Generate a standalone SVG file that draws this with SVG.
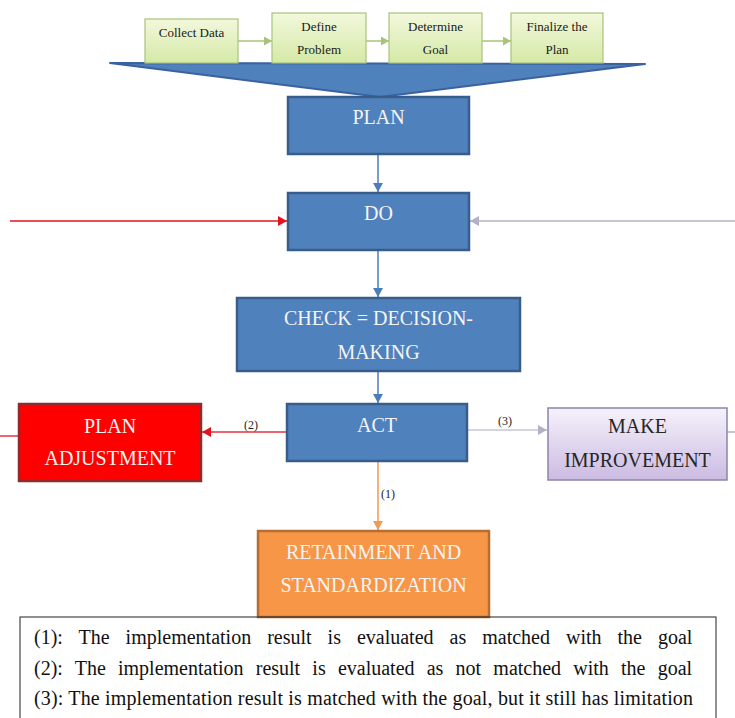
<svg xmlns="http://www.w3.org/2000/svg" width="735" height="718" viewBox="0 0 735 718">
<style>
.g rect{fill:url(#gg);stroke:#a9c47a;stroke-width:1.2}
.gt{font-family:"Liberation Serif",serif;font-size:13px;fill:#1a1a1a;text-anchor:middle}
.b{fill:#4f81bd;stroke:#385d8a;stroke-width:2.5}
.wt{font-family:"Liberation Serif",serif;font-size:20px;fill:#f4f4f4;text-anchor:middle}
.dt{font-family:"Liberation Serif",serif;font-size:20px;fill:#262626;text-anchor:middle}
.lbl{font-family:"Liberation Serif",serif;font-size:12px;fill:#222}
.leg{font-family:"Liberation Serif",serif;font-size:20px;fill:#111}
</style>
<defs>
<linearGradient id="gg" x1="0" y1="0" x2="0" y2="1"><stop offset="0" stop-color="#f2f8dc"/><stop offset="1" stop-color="#d5e9a6"/></linearGradient>
<linearGradient id="pg" x1="0" y1="0" x2="0" y2="1"><stop offset="0" stop-color="#f6f2fb"/><stop offset="1" stop-color="#cbbbe2"/></linearGradient>
<marker id="mg" markerUnits="userSpaceOnUse" markerWidth="9" markerHeight="9" refX="8" refY="4.5" orient="auto"><path d="M0,0 L8,4.5 L0,9 Z" fill="#a9c47a"/></marker>
<marker id="mb" markerUnits="userSpaceOnUse" markerWidth="10" markerHeight="10" refX="9" refY="5" orient="auto"><path d="M0,0 L9,5 L0,10 Z" fill="#4a7ebb"/></marker>
<marker id="mr" markerUnits="userSpaceOnUse" markerWidth="10" markerHeight="10" refX="9" refY="5" orient="auto"><path d="M0,0 L9,5 L0,10 Z" fill="#e3141e"/></marker>
<marker id="ml" markerUnits="userSpaceOnUse" markerWidth="10" markerHeight="10" refX="9" refY="5" orient="auto"><path d="M0,0 L9,5 L0,10 Z" fill="#b4b0c8"/></marker>
<marker id="mo" markerUnits="userSpaceOnUse" markerWidth="10" markerHeight="10" refX="9" refY="5" orient="auto"><path d="M0,0 L9,5 L0,10 Z" fill="#ef9a55"/></marker>
</defs>
<rect width="735" height="718" fill="#ffffff"/>

<g id="funnel"><polygon points="110,63 645,64 380,97" fill="#4f81bd" stroke="#3a62a0" stroke-width="2" stroke-linejoin="round"/></g>

<g id="collect" class="g"><rect x="145" y="19" width="93" height="44"/><text class="gt" x="191.5" y="37">Collect Data</text></g>
<g id="define" class="g"><rect x="272" y="13" width="94" height="50"/><text class="gt" x="319" y="31">Define</text><text class="gt" x="319" y="54">Problem</text></g>
<g id="goal" class="g"><rect x="389" y="13" width="93" height="50"/><text class="gt" x="435.5" y="31">Determine</text><text class="gt" x="435.5" y="54">Goal</text></g>
<g id="finalize" class="g"><rect x="511" y="13" width="92" height="50"/><text class="gt" x="557" y="31">Finalize the</text><text class="gt" x="557" y="54">Plan</text></g>

<g id="connectors" fill="none" stroke-width="1.5">
<line x1="238" y1="41" x2="272" y2="41" stroke="#a9c47a" marker-end="url(#mg)"/>
<line x1="366" y1="41" x2="389" y2="41" stroke="#a9c47a" marker-end="url(#mg)"/>
<line x1="482" y1="41" x2="511" y2="41" stroke="#a9c47a" marker-end="url(#mg)"/>
<line x1="378" y1="154" x2="378" y2="192" stroke="#4a7ebb" marker-end="url(#mb)"/>
<line x1="378" y1="251" x2="378" y2="297" stroke="#4a7ebb" marker-end="url(#mb)"/>
<line x1="378" y1="372" x2="378" y2="403" stroke="#4a7ebb" marker-end="url(#mb)"/>
<line x1="10" y1="221" x2="287" y2="221" stroke="#e3141e" marker-end="url(#mr)"/>
<line x1="735" y1="221" x2="470" y2="221" stroke="#b4b0c8" marker-end="url(#ml)"/>
<line x1="287" y1="432" x2="202" y2="432" stroke="#e3323c" marker-end="url(#mr)"/>
<line x1="0" y1="436" x2="18" y2="436" stroke="#e3323c"/>
<line x1="468" y1="430" x2="547" y2="430" stroke="#c8c6d4" marker-end="url(#ml)"/>
<line x1="727" y1="432" x2="735" y2="432" stroke="#b4b0c8"/>
<line x1="378" y1="461" x2="378" y2="530" stroke="#ef9a55" marker-end="url(#mo)"/>
<text class="lbl" x="244" y="429" stroke="none">(2)</text>
<text class="lbl" x="498" y="425" stroke="none">(3)</text>
<text class="lbl" x="381" y="498" stroke="none">(1)</text>
</g>

<g id="plan"><rect class="b" x="288" y="97" width="181" height="57"/><text class="wt" x="378.5" y="124">PLAN</text></g>
<g id="do"><rect class="b" x="288" y="193" width="181" height="57"/><text class="wt" x="378.5" y="220">DO</text></g>
<g id="check"><rect class="b" x="237" y="298" width="283" height="73"/><text class="wt" x="378.5" y="325">CHECK = DECISION-</text><text class="wt" x="378.5" y="359">MAKING</text></g>
<g id="act"><rect class="b" x="287" y="404" width="180" height="57"/><text class="wt" x="377" y="432">ACT</text></g>
<g id="adjust"><rect x="19" y="404" width="182" height="77" fill="#ff0000" stroke="#8e2b2b" stroke-width="2.5"/><text class="wt" x="110" y="433">PLAN</text><text class="wt" x="110" y="465">ADJUSTMENT</text></g>
<g id="improve"><rect x="548" y="408" width="179" height="72" fill="url(#pg)" stroke="#8f83aa" stroke-width="1.5"/><text class="dt" x="637.5" y="433">MAKE</text><text class="dt" x="637.5" y="467">IMPROVEMENT</text></g>
<g id="retain"><rect x="258" y="531" width="231" height="86" fill="#f79646" stroke="#b66d31" stroke-width="2.5"/><text class="wt" x="373.5" y="559">RETAINMENT AND</text><text class="wt" x="373.5" y="592">STANDARDIZATION</text></g>

<g id="legend">
<rect x="20" y="617" width="696" height="110" fill="none" stroke="#222" stroke-width="1"/>
<text class="leg" x="34" y="644" word-spacing="11">(1): The implementation result is evaluated as matched with the goal</text>
<text class="leg" x="34" y="675" word-spacing="7.2">(2): The implementation result is evaluated as not matched with the goal</text>
<text class="leg" x="34" y="705" textLength="659" lengthAdjust="spacing">(3): The implementation result is matched with the goal, but it still has limitation</text>
</g>
</svg>
